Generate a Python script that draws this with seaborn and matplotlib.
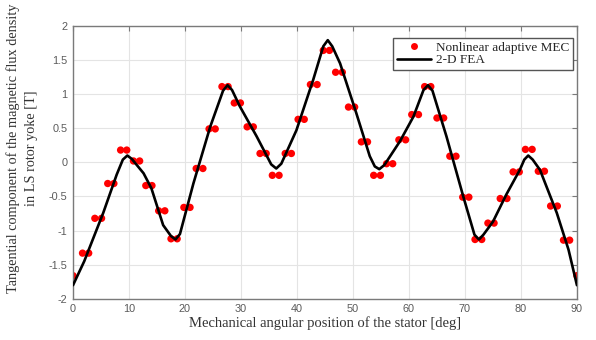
import matplotlib
matplotlib.use("Agg")
import matplotlib.pyplot as plt
import matplotlib.ticker as mticker
from matplotlib.lines import Line2D
import seaborn as sns
import warnings
warnings.filterwarnings("ignore")

# Nonlinear adaptive MEC (red dots)
mec_angle = [0.0,
             1.7, 2.8, 3.9, 5.1, 6.2, 7.3, 8.5, 9.6, 10.8, 11.9,
             13.0, 14.1, 15.3, 16.4, 17.5, 18.6, 19.8, 20.9, 22.0, 23.2,
             24.3, 25.4, 26.6, 27.7, 28.8, 29.9, 31.1, 32.2, 33.4, 34.5,
             35.6, 36.8, 37.9, 39.0, 40.2, 41.3, 42.4, 43.6, 44.7, 45.8,
             46.9, 48.1, 49.2, 50.3, 51.5, 52.6, 53.7, 54.9, 56.0, 57.1,
             58.2, 59.4, 60.5, 61.7, 62.8, 63.9, 65.0, 66.2, 67.3, 68.4,
             69.6, 70.7, 71.8, 73.0, 74.1, 75.2, 76.3, 77.5, 78.6, 79.7,
             80.8, 82.0, 83.1, 84.2, 85.3, 86.5, 87.6, 88.7,
             90.0]
mec_value = [-1.66,
             -1.33, -1.33, -0.82, -0.82, -0.31, -0.31, 0.18, 0.18, 0.02, 0.02,
             -0.34, -0.34, -0.71, -0.71, -1.12, -1.12, -0.66, -0.66, -0.09, -0.09,
             0.49, 0.49, 1.11, 1.11, 0.87, 0.87, 0.52, 0.52, 0.13, 0.13,
             -0.19, -0.19, 0.13, 0.13, 0.63, 0.63, 1.14, 1.14, 1.64, 1.64,
             1.32, 1.32, 0.81, 0.81, 0.30, 0.30, -0.19, -0.19, -0.02, -0.02,
             0.33, 0.33, 0.70, 0.70, 1.11, 1.11, 0.65, 0.65, 0.09, 0.09,
             -0.51, -0.51, -1.13, -1.13, -0.89, -0.89, -0.53, -0.53, -0.14, -0.14,
             0.19, 0.19, -0.13, -0.13, -0.64, -0.64, -1.14, -1.14,
             -1.66]

# 2-D FEA (black line)
fea_angle = [0.0, 2.0, 5.4, 7.8, 8.9, 9.7, 10.5, 12.6, 14.0, 16.1, 17.5, 18.3,
             19.1, 21.5, 24.5, 26.8, 27.6, 28.4, 29.8, 32.8, 35.4, 36.3, 37.2,
             39.9, 42.9, 44.7, 45.5, 46.3, 47.7, 50.6, 53.0, 53.9, 54.7, 55.6,
             58.4, 60.8, 62.6, 63.4, 64.2, 66.7, 69.7, 71.7, 72.5, 73.3, 75.0,
             77.4, 79.8, 80.6, 81.3, 82.1, 83.4, 86.4, 88.5, 90.0]
fea_value = [-1.80, -1.45, -0.74, -0.18, 0.04, 0.10, 0.05, -0.16, -0.38, -0.92, -1.08, -1.13,
             -1.05, -0.31, 0.52, 1.05, 1.13, 1.06, 0.82, 0.38, -0.03, -0.09, -0.02,
             0.47, 1.21, 1.70, 1.79, 1.70, 1.45, 0.72, 0.09, -0.06, -0.10, -0.04,
             0.31, 0.67, 1.06, 1.13, 1.05, 0.38, -0.50, -1.06, -1.13, -1.06, -0.87,
             -0.47, -0.11, 0.04, 0.10, 0.04, -0.11, -0.74, -1.28, -1.80]

x_ticks = [0, 10, 20, 30, 40, 50, 60, 70, 80, 90]
y_ticks = [-2, -1.5, -1, -0.5, 0, 0.5, 1, 1.5, 2]

sns.set_style("whitegrid")
plt.rcParams["axes.unicode_minus"] = False
plt.rcParams["font.family"] = ["Liberation Sans", "DejaVu Sans"]

fig = plt.figure(figsize=(5.96, 3.40), dpi=100)
ax = fig.add_axes([0.1225, 0.121, 0.8455, 0.803])

sns.scatterplot(x=mec_angle, y=mec_value, ax=ax, color="#ff0000", s=28,
                edgecolor="none", linewidth=0, zorder=2)
sns.lineplot(x=fea_angle, y=fea_value, ax=ax, color="black", linewidth=1.9,
             sort=False, zorder=3)

ax.set_xlim(0, 90)
ax.set_ylim(-2, 2)
ax.set_xticks(x_ticks)
ax.set_yticks(y_ticks)
ax.yaxis.set_major_formatter(mticker.FuncFormatter(lambda v, p: "%g" % v))
ax.xaxis.set_major_formatter(mticker.FuncFormatter(lambda v, p: "%g" % v))

ax.grid(True, color="#e4e4e4", linewidth=0.8)
for s in ax.spines.values():
    s.set_visible(True)
    s.set_color("#7a7a7a")
    s.set_linewidth(1.0)
ax.tick_params(direction="in", length=3.5, width=0.8, color="#7a7a7a",
               top=True, right=True, labelsize=7.8, labelcolor="#5a5a5a", pad=4)

serif = ["Liberation Serif", "DejaVu Serif"]
ax.set_xlabel("Mechanical angular position of the stator [deg]", family=serif,
              fontsize=10.5, color="#333333", labelpad=1)
ax.set_ylabel("Tangential component of the magnetic flux density\nin LS rotor yoke [T]",
              family=serif, fontsize=10.3, color="#333333",
              linespacing=1.5)
ax.yaxis.set_label_coords(-0.069, 0.55)

handles = [Line2D([], [], marker="o", linestyle="none", color="#ff0000",
                  markersize=5, markeredgewidth=0),
           Line2D([], [], color="black", linewidth=1.9)]
leg = ax.legend(handles, ["Nonlinear adaptive MEC", "2-D FEA"],
                loc="upper right", bbox_to_anchor=(0.992, 0.956),
                prop={"family": serif, "size": 9.5}, frameon=True,
                fancybox=False, edgecolor="#555555", framealpha=1,
                handlelength=2.6, handletextpad=0.35, borderpad=0.3,
                borderaxespad=0.0, labelspacing=0.0)
leg.get_frame().set_linewidth(1.0)

fig.savefig("out.png", dpi=100)
